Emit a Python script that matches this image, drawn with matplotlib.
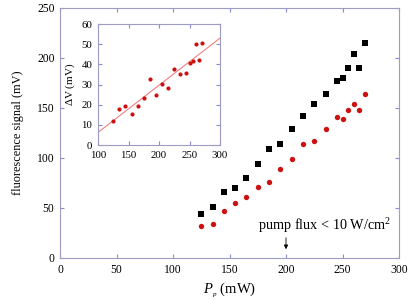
import numpy as np
import matplotlib
matplotlib.use("Agg")
import matplotlib.pyplot as plt

pump_power = [125, 135, 145, 155, 165, 175, 185, 195, 205, 215, 225, 235, 245, 250, 255, 260, 265, 270]
signal_black = [44, 51.5, 65.7, 70.4, 80, 94, 108.9, 113.9, 129.5, 142.4, 154, 164, 177, 179.6, 190, 203.8, 190, 214.8]
signal_red = [31.9, 34.2, 46.8, 55.4, 60.8, 70.7, 76.4, 89, 98.9, 114.2, 116.9, 128.8, 141.4, 139, 148.4, 153.7, 148.4, 164.3]
delta_v = [11.9, 17.7, 19.5, 15.2, 19.3, 23.1, 32.9, 25.0, 30.4, 28.3, 37.7, 35.4, 35.9, 40.7, 41.8, 50.2, 42.0, 50.6]

main_xticks = [0, 50, 100, 150, 200, 250, 300]
main_yticks = [0, 50, 100, 150, 200, 250]
inset_xticks = [100, 150, 200, 250, 300]
inset_yticks = [0, 10, 20, 30, 40, 50, 60]

plt.rcParams['font.family'] = ['Liberation Serif', 'DejaVu Serif']
plt.rcParams['mathtext.fontset'] = 'custom'
plt.rcParams['mathtext.it'] = 'Liberation Serif:italic'
plt.rcParams['mathtext.rm'] = 'Liberation Serif'

W, H = 416, 300
fig = plt.figure(figsize=(W / 100, H / 100), dpi=100)

spine_c = '#9c9cc4'
tick_c = '#8a8ad8'

def style(ax, fs, pad):
    for s in ax.spines.values():
        s.set_color(spine_c)
        s.set_linewidth(0.8)
    ax.tick_params(direction='in', top=True, right=True, color=tick_c,
                   length=3, width=0.8, labelsize=fs, labelcolor='black', pad=pad)

ax = fig.add_axes([60 / W, 1 - 258 / H, (399 - 60) / W, (258 - 8) / H])
ax.scatter(pump_power, signal_black, marker='s', s=13, color='black', linewidths=0, zorder=3)
ax.scatter(pump_power, signal_red, marker='o', s=15, color='#cc1111', linewidths=0, zorder=3)
ax.set_xlim(0, 300)
ax.set_ylim(0, 250)
ax.set_xticks(main_xticks)
ax.set_yticks(main_yticks)
style(ax, 8.4, 4)
ax.set_ylabel('fluorescence signal (mV)', fontsize=8.8, labelpad=9)
ax.set_xlabel(r'$P_{_p}$ (mW)', fontsize=10.5, labelpad=4)
ax.annotate('', xy=(200, 6), xytext=(200, 23),
            arrowprops=dict(arrowstyle='-|>', color='black', lw=0.6, mutation_scale=6))
ax.text(175, 28, r'pump flux < 10 W/cm$^2$', fontsize=10.3, ha='left', va='baseline')

ins = fig.add_axes([98 / W, 1 - 145 / H, (220 - 98) / W, (145 - 24) / H])
ins.scatter(pump_power, delta_v, marker='o', s=9, color='#cc1111', linewidths=0, zorder=3)
coef = np.polyfit(pump_power, delta_v, 1)
xf = np.array([100, 300])
ins.plot(xf, np.polyval(coef, xf), color='#f08080', lw=0.8, zorder=2)
ins.set_xlim(100, 300)
ins.set_ylim(0, 60)
ins.set_xticks(inset_xticks)
ins.set_yticks(inset_yticks)
style(ins, 7.8, 4)
ins.set_ylabel(r'$\Delta$V (mV)', fontsize=8, labelpad=3)

fig.savefig('out.png', dpi=100)
